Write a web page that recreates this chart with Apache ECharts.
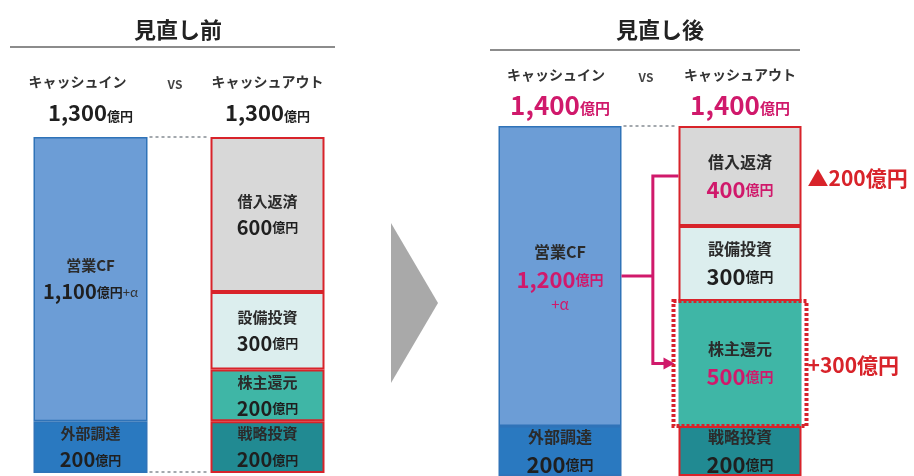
<!DOCTYPE html>
<html>
<head>
<meta charset="utf-8">
<script src="https://cdn.jsdelivr.net/npm/echarts@6/dist/echarts.min.js"></script>
<style>
  html, body { margin: 0; background: #fff; }
  #main { width: 914px; height: 476px; }
</style>
</head>
<body>
<div id="main"></div>
<script>
// 見直し前 / 見直し後 のキャッシュイン・キャッシュアウト
const panelTitles = ['見直し前', '見直し後'];
const sideNames = ['キャッシュイン', 'キャッシュアウト'];
const inNames = ['外部調達', '営業CF'];                        // 下から積む
const outNames = ['戦略投資', '株主還元', '設備投資', '借入返済'];
const beforeIn = [200, 1100];
const beforeOut = [200, 200, 300, 600];
const afterIn = [200, 1200];
const afterOut = [200, 500, 300, 400];
const totals = [1300, 1400];
const afterInAccent = [false, true];
const afterOutAccent = [false, true, false, true];
const changeLabels = ['▲200億円', '+300億円'];               // 借入返済, 株主還元

const FONT = '"Noto Sans CJK JP", sans-serif';
const MAGENTA = '#d0196b';
const RED = '#d8232a';
const inColors = ['#2a79c0', '#6c9dd6'];
const outColors = ['#218a92', '#3fb6a6', '#dceeee', '#d8d8d8'];

const layout = [
  { left: 2, width: 354, top: 137, height: 336, barWidth: 114, titleX: 178, lineY: 47, lineX: [10, 335],
    nameY: 82, nameShift: -13, totalY: 113, totalSize: 22, totalUnit: 13 },
  { left: 470, width: 360, top: 126, height: 362, barWidth: 123, titleX: 660, lineY: 50, lineX: [490, 800],
    nameY: 75, nameShift: -4, totalY: 105, totalSize: 26, totalUnit: 15 },
];

const rich = [
  {
    n: { fontFamily: FONT, fontSize: 15, fontWeight: 'bold', color: '#2b2b2b', lineHeight: 25 },
    v: { fontFamily: FONT, fontSize: 20, fontWeight: 'bold', color: '#1f1f1f', lineHeight: 27 },
    u: { fontFamily: FONT, fontSize: 13, fontWeight: 'bold', color: '#1f1f1f', lineHeight: 27 },
    a: { fontFamily: FONT, fontSize: 13, color: '#333', lineHeight: 27 },
  },
  {
    n: { fontFamily: FONT, fontSize: 16, fontWeight: 'bold', color: '#2b2b2b', lineHeight: 27 },
    v: { fontFamily: FONT, fontSize: 22, fontWeight: 'bold', color: '#1f1f1f', lineHeight: 29 },
    u: { fontFamily: FONT, fontSize: 14, fontWeight: 'bold', color: '#1f1f1f', lineHeight: 29 },
    vm: { fontFamily: FONT, fontSize: 22, fontWeight: 'bold', color: MAGENTA, lineHeight: 29 },
    um: { fontFamily: FONT, fontSize: 14, fontWeight: 'bold', color: MAGENTA, lineHeight: 29 },
    am: { fontFamily: FONT, fontSize: 15, color: MAGENTA, lineHeight: 20 },
  },
];

const fmt = v => v.toLocaleString('en-US');

function segText(p, name, v, accent, alpha) {
  const s = accent ? 'm' : '';
  let t = '{n|' + name + '}\n{v' + s + '|' + fmt(v) + '}{u' + s + '|億円}';
  if (alpha) t += p === 0 ? '{a|+α}' : '\n{a' + s + '|+α}';
  return t;
}

const series = [];
[[beforeIn, beforeOut], [afterIn, afterOut]].forEach(([ins, outs], p) => {
  ins.forEach((v, i) => {
    const accent = p === 1 && afterInAccent[i];
    series.push({
      type: 'bar', name: inNames[i], xAxisIndex: p, yAxisIndex: p, stack: 'p' + p,
      barWidth: layout[p].barWidth, data: [v, '-'],
      itemStyle: { color: inColors[i], borderColor: '#2f73b8', borderWidth: 1.5 },
      label: {
        show: true, position: 'inside', rich: rich[p],
        formatter: segText(p, inNames[i], v, accent, inNames[i] === '営業CF'),
      },
    });
  });
  outs.forEach((v, i) => {
    const accent = p === 1 && afterOutAccent[i];
    const framed = p === 1 && outNames[i] === '株主還元';
    series.push({
      type: 'bar', name: outNames[i], xAxisIndex: p, yAxisIndex: p, stack: 'p' + p,
      barWidth: layout[p].barWidth, data: ['-', v],
      itemStyle: { color: outColors[i], borderColor: RED, borderWidth: framed ? 0 : 2 },
      label: {
        show: true, position: 'inside', rich: rich[p],
        formatter: segText(p, outNames[i], v, accent, false),
      },
    });
  });
});

const chart = echarts.init(document.getElementById('main'));
chart.setOption({
  animation: false,
  grid: layout.map(L => ({ left: L.left, width: L.width, top: L.top, height: L.height })),
  xAxis: layout.map((L, p) => ({ type: 'category', gridIndex: p, data: sideNames, show: false })),
  yAxis: layout.map((L, p) => ({ type: 'value', gridIndex: p, min: 0, max: totals[p], show: false })),
  series: series,
});

// 座標変換して装飾を配置
const px = (p, cat, val) => chart.convertToPixel({ gridIndex: p }, [cat, val]);
const g = [];

layout.forEach((L, p) => {
  const inX = px(p, 0, 0)[0];
  const outX = px(p, 1, 0)[0];
  const half = L.barWidth / 2;
  const topY = px(p, 0, totals[p])[1];
  const botY = px(p, 0, 0)[1];
  const totalColor = p === 1 ? MAGENTA : '#1f1f1f';

  g.push({
    type: 'text', x: L.titleX, y: 30,
    style: { text: panelTitles[p], font: 'bold 22px ' + FONT, fill: '#222', align: 'center', verticalAlign: 'middle' },
  });
  g.push({
    type: 'line', shape: { x1: L.lineX[0], y1: L.lineY, x2: L.lineX[1], y2: L.lineY },
    style: { stroke: '#8c8c8c', lineWidth: 2 },
  });
  [inX, outX].forEach((x, i) => {
    g.push({
      type: 'text', x: x + (i === 0 ? L.nameShift : 0), y: L.nameY,
      style: { text: sideNames[i], font: 'bold 14px ' + FONT, fill: '#333', align: 'center', verticalAlign: 'middle' },
    });
    g.push({
      type: 'text', x: x, y: L.totalY,
      style: {
        text: '{v|' + fmt(totals[p]) + '}{u|億円}', align: 'center', verticalAlign: 'middle',
        rich: {
          v: { fontFamily: FONT, fontSize: L.totalSize, fontWeight: 'bold', fill: totalColor },
          u: { fontFamily: FONT, fontSize: L.totalUnit, fontWeight: 'bold', fill: totalColor, padding: [7, 0, 0, 0] },
        },
      },
    });
  });
  g.push({
    type: 'text', x: (inX + outX) / 2 - 4, y: L.nameY + 2,
    style: { text: 'VS', font: 'bold 12px ' + FONT, fill: '#444', align: 'center', verticalAlign: 'middle' },
  });
  // バー間の点線
  g.push({
    type: 'line', shape: { x1: inX + half + 2, y1: topY, x2: outX - half - 2, y2: topY },
    style: { stroke: '#a3a8ad', lineWidth: 2, lineDash: [3, 3] },
  });
  if (p === 0) {
    g.push({
      type: 'line', shape: { x1: inX + half + 2, y1: botY - 1, x2: outX - half - 2, y2: botY - 1 },
      style: { stroke: '#a3a8ad', lineWidth: 2, lineDash: [3, 3] },
    });
  }
});

// 中央の矢印
g.push({
  type: 'polygon', shape: { points: [[391, 223], [438, 303], [391, 383]] },
  style: { fill: '#a9a9a9' },
});

// 見直し後: 株主還元の点線枠、資金の流れ、増減ラベル
{
  const L = layout[1];
  const half = L.barWidth / 2;
  const inX = px(1, 0, 0)[0];
  const outX = px(1, 1, 0)[0];
  const base = afterOut[0];
  const shTop = px(1, 1, base + afterOut[1])[1];
  const shBot = px(1, 1, base)[1];
  const shMid = (shTop + shBot) / 2;
  const debtMid = px(1, 1, totals[1] - afterOut[3] / 2)[1];
  const cfMid = px(1, 0, afterIn[0] + afterIn[1] / 2)[1];
  const inRight = inX + half;
  const outLeft = outX - half;
  const midX = inRight + (outLeft - inRight) * 0.55;

  g.push({
    type: 'rect', z: 10,
    shape: { x: outLeft - 5, y: shTop, width: L.barWidth + 10, height: shBot - shTop },
    style: { fill: 'none', stroke: RED, lineWidth: 4, lineDash: [3, 2] },
  });
  const lineStyle = { stroke: MAGENTA, lineWidth: 3, fill: 'none' };
  g.push({ type: 'polyline', z: 11, shape: { points: [[inRight, cfMid], [midX, cfMid]] }, style: lineStyle });
  g.push({ type: 'polyline', z: 11, shape: { points: [[outLeft, debtMid], [midX, debtMid], [midX, shMid], [outLeft - 14, shMid]] }, style: lineStyle });
  g.push({
    type: 'polygon', z: 11,
    shape: { points: [[outLeft - 15, shMid - 6], [outLeft - 4, shMid], [outLeft - 15, shMid + 6]] },
    style: { fill: MAGENTA },
  });
  [debtMid, shMid].forEach((y, i) => {
    g.push({
      type: 'text', x: outX + half + 6, y: y + 2,
      style: { text: changeLabels[i], font: 'bold 21px ' + FONT, fill: RED, align: 'left', verticalAlign: 'middle' },
    });
  });
}

chart.setOption({ graphic: g });
</script>
</body>
</html>
